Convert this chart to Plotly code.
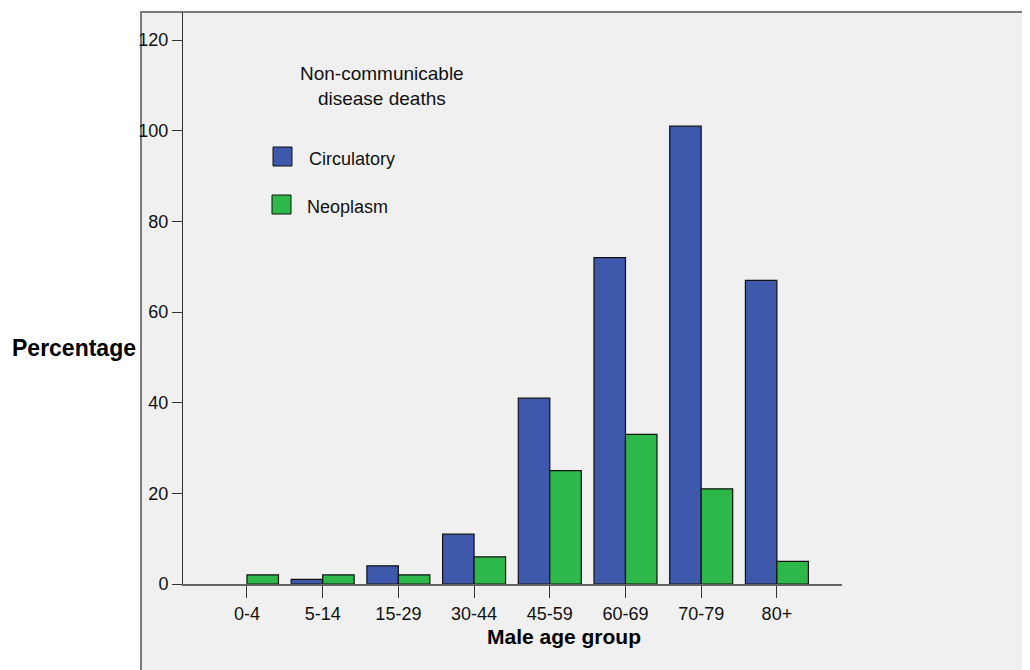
import plotly.graph_objects as go

categories = ["0-4", "5-14", "15-29", "30-44", "45-59", "60-69", "70-79", "80+"]
circulatory = [None, 1, 4, 11, 41, 72, 101, 67]
neoplasm = [2, 2, 2, 6, 25, 33, 21, 5]
y_ticks = [0, 20, 40, 60, 80, 100, 120]

BLUE = "#3e58ab"
GREEN = "#2fb84a"
BG = "#f0f0f0"
FONT = "Liberation Sans, Arial, sans-serif"

W, H = 1030, 670
OFF = 8  # page body margin
L, R, T, B = 183, 842, 12, 584  # plot area in screen pixels
pw, ph = R - L, B - T


def px(x):
    return (x - L) / pw


def py(y):
    return (B - y) / ph


fig = go.Figure()
fig.add_trace(go.Bar(x=categories, y=circulatory, name="Circulatory",
                     marker=dict(color=BLUE, line=dict(color="#111111", width=1.2)),
                     showlegend=False))
fig.add_trace(go.Bar(x=categories, y=neoplasm, name="Neoplasm",
                     marker=dict(color=GREEN, line=dict(color="#111111", width=1.2)),
                     showlegend=False))

shapes = [
    # outer grey frame
    dict(type="rect", xref="paper", yref="paper", x0=px(141), x1=px(W + 20),
         y0=py(H + 20), y1=py(12), fillcolor=BG,
         line=dict(color="#7a7a7a", width=2), layer="below"),
    # legend swatches
    dict(type="rect", xref="paper", yref="paper", x0=px(273), x1=px(292),
         y0=py(166), y1=py(147), fillcolor=BLUE, line=dict(color="#111111", width=1)),
    dict(type="rect", xref="paper", yref="paper", x0=px(272), x1=px(291),
         y0=py(214), y1=py(195), fillcolor=GREEN, line=dict(color="#111111", width=1)),
]

annotations = [
    dict(text="Non-communicable<br>disease deaths", xref="paper", yref="paper",
         x=px(382), y=py(86), xanchor="center", yanchor="middle", showarrow=False,
         align="center", font=dict(family=FONT, size=19, color="#111111")),
    dict(text="Circulatory", xref="paper", yref="paper", x=px(307), y=py(159),
         xanchor="left", yanchor="middle", showarrow=False,
         font=dict(family=FONT, size=18, color="#111111")),
    dict(text="Neoplasm", xref="paper", yref="paper", x=px(305), y=py(207),
         xanchor="left", yanchor="middle", showarrow=False,
         font=dict(family=FONT, size=18, color="#111111")),
    dict(text="<b>Percentage</b>", xref="paper", yref="paper", x=px(74), y=py(348),
         xanchor="center", yanchor="middle", showarrow=False,
         font=dict(family=FONT, size=23, color="#000000")),
    dict(text="<b>Male age group</b>", xref="paper", yref="paper", x=px(564), y=py(636),
         xanchor="center", yanchor="middle", showarrow=False,
         font=dict(family=FONT, size=21, color="#000000")),
]

fig.update_layout(
    width=W, height=H,
    margin=dict(l=L - OFF, r=W - (R - OFF), t=T - OFF, b=H - (B - OFF), pad=0),
    paper_bgcolor="white",
    plot_bgcolor="rgba(0,0,0,0)",
    barmode="group",
    bargap=0.168,
    bargroupgap=0,
    shapes=shapes,
    annotations=annotations,
    font=dict(family=FONT, color="#111111"),
    xaxis=dict(range=[-0.845, 7.86], showgrid=False, zeroline=False,
               showline=True, linecolor="#666666", linewidth=2,
               ticks="outside", ticklen=12, tickcolor="#333333", tickwidth=1,
               tickfont=dict(family=FONT, size=18, color="#111111")),
    yaxis=dict(range=[0, 126.2], tickvals=y_ticks, showgrid=False, zeroline=False,
               showline=True, linecolor="#333333", linewidth=1,
               ticks="outside", ticklen=10, tickcolor="#333333", tickwidth=1,
               tickfont=dict(family=FONT, size=18, color="#111111")),
)

fig.write_html("out.html")
